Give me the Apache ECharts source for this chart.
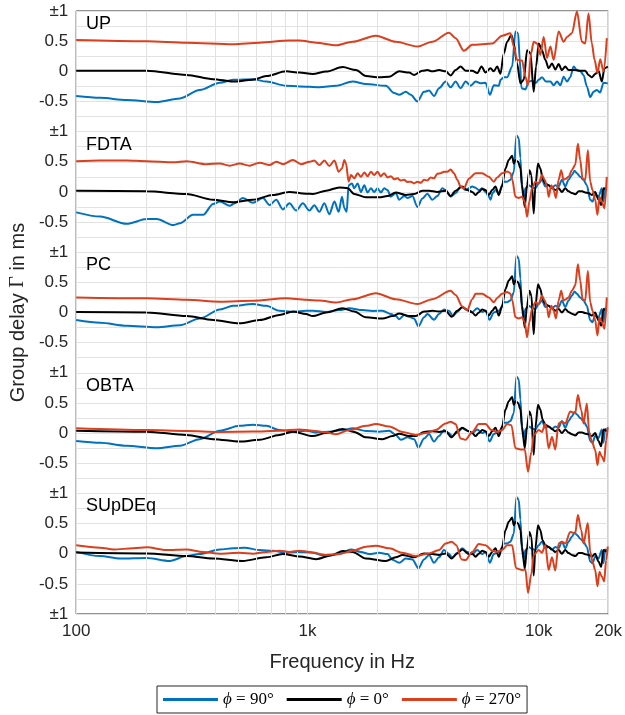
<!DOCTYPE html>
<html><head><meta charset="utf-8">
<script src="https://cdn.jsdelivr.net/npm/echarts@6/dist/echarts.min.js"></script>
<style>html,body{margin:0;padding:0;background:#fff}#c{width:625px;height:715px}</style>
</head><body><div id="c"></div>
<script>
// ---- data (frequency in Hz, group delay in ms) ----
const PANELS = ['UP', 'FDTA', 'PC', 'OBTA', 'SUpDEq'];
const DIRECTIONS = ['ϕ = 90°', 'ϕ = 0°', 'ϕ = 270°'];
const X_MINOR = [200,300,400,500,600,700,800,900,2000,3000,4000,5000,6000,7000,8000,9000];

const UP_90 = [[100,-0.41],[127,-0.44],[165,-0.475],[223,-0.51],[281,-0.45],[342,-0.31],[418,-0.19],[477,-0.14],[581,-0.13],[664,-0.17],[809,-0.24],[924,-0.25],[1126,-0.265],[1329,-0.24],[1568,-0.17],[1790,-0.21],[2183,-0.24],[2371,-0.36],[2492,-0.39],[2663,-0.34],[2798,-0.39],[2989,-0.5],[3193,-0.34],[3356,-0.32],[3527,-0.41],[3707,-0.28],[3960,-0.17],[4161,-0.265],[4373,-0.17],[4595,-0.28],[4830,-0.17],[5078,-0.24],[5336,-0.17],[5607,-0.2],[5891,-0.19],[6152,-0.39],[6401,-0.23],[6724,-0.24],[6838,-0.14],[7068,-0.1],[7303,-0.1],[7677,0.08],[7935,0.66],[8148,0.63],[8284,0.19],[8422,-0.28],[8761,-0.3],[9056,-0.17],[9360,-0.155],[9743,-0.19],[10000,-0.14],[10336,-0.1],[10762,-0.17],[11234,-0.17],[11612,-0.23],[12003,-0.17],[12407,-0.23],[12824,-0.09],[13256,-0.17],[13690,-0.1],[14160,0.08],[14636,0.02],[15129,0],[15633,-0.06],[16153,-0.25],[16705,-0.43],[17267,-0.34],[17848,-0.31],[18449,-0.35],[19069,-0.19],[19900,-0.2]];
const UP_0 = [[100,0.01],[202,0.01],[300,-0.06],[391,-0.13],[477,-0.17],[581,-0.14],[664,-0.08],[809,0],[924,-0.02],[1054,-0.045],[1204,-0.005],[1420,0.07],[1621,0.02],[1790,-0.08],[2043,-0.1],[2257,-0.09],[2492,0],[2752,-0.02],[2892,-0.06],[3141,0.01],[3300,0.02],[3469,0],[3707,0.02],[3960,0],[4161,-0.07],[4373,0.02],[4595,0.08],[4830,0.01],[5160,0.01],[5422,-0.03],[5660,0.08],[5891,-0.02],[6190,0.05],[6398,0],[6614,0.08],[6838,-0.04],[7068,0.3],[7303,0.49],[7624,0.6],[7805,0.46],[8067,0.13],[8337,-0.2],[8620,-0.14],[8910,0.35],[9210,0.3],[9516,-0.34],[9743,0.08],[10000,0.46],[10336,0.35],[10683,0.19],[11042,0.05],[11414,0.13],[11797,0.03],[12196,0.12],[12601,0.02],[13030,0.08],[13470,0.02],[14390,0.02],[15129,0.01],[15892,0.01],[16425,-0.06],[16980,-0.1],[17550,-0.045],[18141,0.01],[18752,-0.17],[19250,0.05],[19900,0.08]];
const UP_270 = [[100,0.52],[202,0.5],[300,0.475],[477,0.45],[621,0.475],[836,0.51],[924,0.51],[1089,0.475],[1329,0.43],[1568,0.49],[1977,0.59],[2411,0.49],[2989,0.41],[3469,0.49],[4093,0.64],[4373,0.55],[4750,0.34],[5160,0.44],[6294,0.46],[6950,0.59],[7552,0.63],[7805,0.41],[8067,0.19],[8476,0.18],[8761,-0.09],[8995,-0.23],[9271,0.3],[9516,0.49],[9840,0.46],[10170,0.27],[10512,0.57],[10862,0.22],[11234,0.41],[11612,0.19],[12196,0.66],[12824,0.49],[13256,0.57],[13922,0.63],[14636,0.99],[15382,0.49],[15892,0.46],[16425,0.96],[16980,0.46],[17440,0.19],[17962,-0.03],[18449,0.2],[19069,0.0],[19710,0.55]];

const FDTA_90 = [[100,-0.34],[127,-0.41],[165,-0.53],[202,-0.45],[223,-0.45],[263,-0.55],[281,-0.52],[320,-0.38],[354,-0.38],[391,-0.2],[418,-0.16],[461,-0.23],[485,-0.19],[526,-0.1],[581,-0.18],[642,-0.1],[686,-0.22],[733,-0.13],[783,-0.29],[836,-0.19],[894,-0.31],[955,-0.19],[1020,-0.31],[1071,-0.22],[1126,-0.33],[1183,-0.19],[1244,-0.37],[1308,-0.16],[1365,-0.33],[1411,-0.08],[1444,-0.27],[1478,-0.33],[1507,0.11],[1558,0.14],[1594,0.06],[1648,0.14],[1703,0.0],[1761,0.11],[1820,-0.01],[1881,0.06],[1944,0.0],[2010,0.06],[2077,-0.01],[2147,0.06],[2219,0.03],[2294,-0.08],[2411,-0.02],[2492,-0.13],[2619,-0.07],[2707,-0.1],[2844,-0.07],[2989,-0.25],[3141,-0.11],[3300,-0.03],[3469,-0.13],[3645,-0.07],[3831,0.06],[3960,0.03],[4161,-0.08],[4373,-0.02],[4595,0.09],[4830,0.03],[4992,0.06],[5159,0.09],[5333,0.07],[5513,0.03],[5698,0.06],[5891,0.0],[6088,-0.08],[6190,-0.13],[6319,-0.02],[6504,0.03],[6723,-0.02],[6949,0.09],[7065,0.17],[7303,0.17],[7549,0.2],[7803,0.33],[8012,0.94],[8200,0.89],[8337,0.56],[8476,0.03],[8617,-0.08],[8761,0.06],[9056,0.11],[9360,0.08],[9674,0.06],[10000,0.14],[10337,0.2],[10683,0.09],[11044,0.11],[11415,0.07],[11800,0.11],[12197,0.09],[12600,0.2],[13030,0.09],[13467,0.2],[13920,0.28],[14294,0.35],[14631,0.31],[15121,0.25],[15631,0.2],[16158,0.11],[16700,-0.13],[17093,-0.16],[17550,-0.05],[18140,-0.08],[18750,0.06],[19063,-0.16],[19380,0.07],[19700,0.06]];
const FDTA_0 = [[100,0.02],[202,0.01],[300,-0.035],[391,-0.13],[477,-0.17],[581,-0.13],[709,-0.05],[836,0.0],[987,-0.03],[1054,-0.035],[1204,0.02],[1374,0.075],[1492,0.06],[1594,-0.035],[1790,-0.09],[2043,-0.09],[2219,-0.07],[2411,-0.01],[2663,-0.05],[2892,-0.035],[3141,0.02],[3356,0.02],[3645,0.0],[3960,0.02],[4161,-0.07],[4373,0.02],[4672,0.09],[4910,0.03],[5159,0.0],[5333,-0.05],[5513,0.0],[5698,0.05],[5891,0.03],[6088,-0.05],[6292,0.03],[6504,0.09],[6723,-0.05],[6949,0.11],[7183,0.39],[7425,0.53],[7675,0.6],[7803,0.47],[7933,0.53],[8146,0.5],[8337,0.39],[8476,0.11],[8703,-0.25],[8907,0.11],[9116,0.36],[9298,0.28],[9516,-0.36],[9674,0.09],[9934,0.47],[10167,0.39],[10404,0.22],[10683,0.14],[11044,0.11],[11415,0.07],[11800,0.03],[12197,0.06],[12600,0.0],[13030,0.06],[13467,0.01],[13920,-0.02],[14390,-0.04],[14900,0.01],[15400,0.01],[15892,-0.01],[16425,-0.02],[16980,-0.05],[17550,0.0],[18140,-0.13],[18626,-0.22],[19063,0.06],[19700,0.03]];
const FDTA_270 = [[100,0.51],[127,0.52],[165,0.52],[202,0.51],[263,0.49],[300,0.51],[366,0.46],[418,0.47],[461,0.435],[509,0.47],[562,0.435],[621,0.485],[686,0.445],[733,0.5],[783,0.46],[865,0.53],[939,0.46],[1020,0.5],[1071,0.52],[1126,0.445],[1183,0.52],[1244,0.43],[1308,0.52],[1365,0.335],[1411,0.39],[1444,0.53],[1468,0.47],[1507,0.17],[1543,0.28],[1594,0.225],[1648,0.31],[1703,0.25],[1761,0.32],[1820,0.26],[1881,0.335],[1944,0.28],[2010,0.335],[2077,0.26],[2147,0.31],[2219,0.24],[2294,0.26],[2371,0.21],[2451,0.225],[2533,0.19],[2619,0.2],[2707,0.165],[2798,0.17],[2892,0.14],[2989,0.17],[3089,0.15],[3193,0.2],[3300,0.19],[3411,0.24],[3527,0.225],[3645,0.3],[3768,0.31],[3895,0.335],[4026,0.335],[4161,0.37],[4302,0.31],[4446,0.2],[4595,0.09],[4750,0.06],[4992,0.22],[5333,0.31],[5698,0.31],[6088,0.25],[6397,0.17],[6613,0.24],[6949,0.31],[7303,0.34],[7549,0.31],[7690,0.2],[7933,-0.08],[8200,-0.1],[8476,-0.08],[8703,-0.16],[8907,-0.41],[9116,-0.16],[9360,0.06],[9674,0.17],[10000,0.14],[10337,0.28],[10614,0.2],[10862,0.09],[11044,-0.08],[11340,0.11],[11606,0.03],[11878,-0.1],[12197,0.2],[12516,0.36],[12810,0.2],[13117,0.22],[13467,0.25],[13920,0.36],[14390,0.45],[14777,0.8],[15121,0.53],[15476,0.22],[15892,0.2],[16319,0.69],[16700,0.17],[17093,0.03],[17550,-0.13],[17960,-0.38],[18320,-0.08],[18750,-0.16],[19253,-0.27],[19700,0.25]];

const PC_90 = [[100,-0.125],[127,-0.17],[165,-0.22],[223,-0.245],[281,-0.21],[342,-0.1],[418,0.05],[477,0.11],[581,0.14],[664,0.11],[757,0.03],[865,0.01],[987,0.03],[1054,0.03],[1204,0.01],[1374,0.04],[1518,0.07],[1732,0.04],[1912,0.025],[2112,0.03],[2294,-0.025],[2411,-0.06],[2492,-0.11],[2619,-0.04],[2752,-0.07],[2892,-0.1],[3019,-0.23],[3193,-0.08],[3300,-0.025],[3527,-0.12],[3707,-0.025],[3895,0.05],[4093,0.03],[4259,-0.06],[4446,0.01],[4672,0.09],[4910,0.04],[5160,0.01],[5422,0.07],[5698,0.01],[5891,0.03],[6129,-0.12],[6398,0.0],[6724,0.03],[6949,0.09],[7065,0.17],[7303,0.17],[7549,0.2],[7803,0.33],[8012,0.94],[8200,0.89],[8337,0.56],[8476,0.03],[8617,-0.08],[8761,0.06],[9056,0.11],[9360,0.08],[9674,0.06],[10000,0.14],[10337,0.2],[10683,0.09],[11044,0.11],[11415,0.07],[11800,0.11],[12197,0.09],[12600,0.2],[13030,0.09],[13467,0.2],[13920,0.28],[14294,0.35],[14631,0.31],[15121,0.25],[15631,0.2],[16158,0.11],[16700,-0.13],[17093,-0.16],[17550,-0.05],[18140,-0.08],[18750,0.06],[19063,-0.16],[19380,0.07],[19700,0.06]];
const PC_0 = [[100,0.01],[202,0.0],[300,-0.06],[391,-0.125],[509,-0.18],[621,-0.125],[757,-0.04],[865,0.015],[987,-0.025],[1054,-0.06],[1204,0.0],[1420,0.07],[1594,0.015],[1790,-0.08],[2112,-0.1],[2332,-0.06],[2492,-0.015],[2752,-0.06],[2940,-0.06],[3193,0.015],[3469,0.03],[3707,0.015],[3960,0.03],[4203,-0.07],[4446,0.03],[4672,0.085],[4992,0.03],[5159,0.0],[5333,-0.05],[5513,0.0],[5698,0.05],[5891,0.03],[6088,-0.05],[6292,0.03],[6504,0.09],[6723,-0.05],[6949,0.11],[7183,0.39],[7425,0.53],[7675,0.6],[7803,0.47],[7933,0.53],[8146,0.5],[8337,0.39],[8476,0.11],[8703,-0.25],[8907,0.11],[9116,0.36],[9298,0.28],[9516,-0.36],[9674,0.09],[9934,0.47],[10167,0.39],[10404,0.22],[10683,0.14],[11044,0.11],[11415,0.07],[11800,0.03],[12197,0.06],[12600,0.0],[13030,0.06],[13467,0.01],[13920,-0.02],[14390,-0.04],[14900,0.01],[15400,0.01],[15892,-0.01],[16425,-0.02],[16980,-0.05],[17550,0.0],[18140,-0.13],[18626,-0.22],[19063,0.06],[19700,0.03]];
const PC_270 = [[100,0.25],[202,0.235],[300,0.21],[418,0.18],[581,0.195],[809,0.235],[987,0.21],[1126,0.2],[1329,0.165],[1568,0.22],[1977,0.32],[2411,0.22],[2989,0.14],[3469,0.22],[4161,0.36],[4373,0.29],[4672,0.1],[4910,0.04],[5160,0.22],[5333,0.31],[5698,0.31],[6088,0.25],[6397,0.17],[6613,0.24],[6949,0.31],[7303,0.34],[7549,0.31],[7690,0.2],[7933,-0.08],[8200,-0.1],[8476,-0.08],[8703,-0.16],[8907,-0.41],[9116,-0.16],[9360,0.06],[9674,0.17],[10000,0.14],[10337,0.28],[10614,0.2],[10862,0.09],[11044,-0.08],[11340,0.11],[11606,0.03],[11878,-0.1],[12197,0.2],[12516,0.36],[12810,0.2],[13117,0.22],[13467,0.25],[13920,0.36],[14390,0.45],[14777,0.8],[15121,0.53],[15476,0.22],[15892,0.2],[16319,0.69],[16700,0.17],[17093,0.03],[17550,-0.13],[17960,-0.38],[18320,-0.08],[18750,-0.16],[19253,-0.27],[19700,0.25]];

const OBTA_90 = [[100,-0.13],[127,-0.16],[165,-0.21],[223,-0.25],[281,-0.21],[342,-0.1],[418,0.04],[509,0.12],[581,0.14],[664,0.12],[757,0.05],[865,0.024],[987,0.04],[1089,0.01],[1244,0.024],[1420,0.05],[1568,0.08],[1790,0.035],[2043,0.024],[2257,0.04],[2411,-0.03],[2533,-0.11],[2707,-0.07],[2892,-0.1],[3019,-0.24],[3193,-0.09],[3356,-0.015],[3527,-0.14],[3707,-0.05],[3895,0.05],[4066,0.007],[4231,-0.05],[4446,0.007],[4672,0.08],[4910,0.04],[5160,-0.004],[5422,0.06],[5698,0.0],[5891,0.024],[6129,-0.14],[6398,-0.015],[6724,0.024],[6949,0.09],[7065,0.17],[7303,0.17],[7549,0.2],[7803,0.33],[8012,0.94],[8200,0.89],[8337,0.56],[8476,0.03],[8617,-0.08],[8761,0.06],[9056,0.11],[9360,0.08],[9674,0.06],[10000,0.14],[10337,0.2],[10683,0.09],[11044,0.11],[11415,0.07],[11800,0.11],[12197,0.09],[12600,0.2],[13030,0.09],[13467,0.2],[13920,0.28],[14294,0.35],[14631,0.31],[15121,0.25],[15631,0.2],[16158,0.11],[16700,-0.13],[17093,-0.16],[17550,-0.05],[18140,-0.08],[18750,0.06],[19063,-0.16],[19380,0.07],[19700,0.06]];
const OBTA_0 = [[100,0.04],[202,0.024],[300,-0.03],[391,-0.1],[509,-0.14],[621,-0.11],[757,-0.03],[865,0.024],[1054,-0.05],[1204,0.0],[1420,0.07],[1594,0.02],[1790,-0.07],[2112,-0.1],[2332,-0.05],[2492,-0.01],[2752,-0.05],[2940,-0.05],[3193,0.02],[3469,0.03],[3707,0.02],[3960,0.03],[4203,-0.07],[4446,0.03],[4672,0.09],[4992,0.03],[5159,0.0],[5333,-0.05],[5513,0.0],[5698,0.05],[5891,0.03],[6088,-0.05],[6292,0.03],[6504,0.09],[6723,-0.05],[6949,0.11],[7183,0.39],[7425,0.53],[7675,0.6],[7803,0.47],[7933,0.53],[8146,0.5],[8337,0.39],[8476,0.11],[8703,-0.25],[8907,0.11],[9116,0.36],[9298,0.28],[9516,-0.36],[9674,0.09],[9934,0.47],[10167,0.39],[10404,0.22],[10683,0.14],[11044,0.11],[11415,0.07],[11800,0.03],[12197,0.06],[12600,0.0],[13030,0.06],[13467,0.01],[13920,-0.02],[14390,-0.04],[14900,0.01],[15400,0.01],[15892,-0.01],[16425,-0.02],[16980,-0.05],[17550,0.0],[18140,-0.13],[18626,-0.22],[19063,0.06],[19700,0.03]];
const OBTA_270 = [[100,0.08],[202,0.05],[300,0.035],[418,0.02],[581,0.025],[757,0.04],[924,0.06],[1054,0.04],[1204,0.01],[1329,-0.02],[1518,0.05],[1790,0.12],[1977,0.15],[2257,0.11],[2576,0.02],[2940,-0.03],[3247,0.0],[3586,0.05],[3960,0.16],[4161,0.19],[4373,0.15],[4595,-0.09],[4830,-0.11],[5160,0.02],[5513,0.15],[5891,0.15],[6252,0.05],[6614,0.02],[6950,0.05],[7303,0.15],[7624,0.13],[7933,-0.25],[8337,-0.27],[8703,-0.27],[8995,-0.64],[9298,-0.31],[9516,-0.03],[10000,0.05],[10336,0.02],[10683,0.16],[11042,-0.25],[11414,-0.06],[11797,-0.27],[12196,0.16],[12601,0.19],[13030,0.16],[13690,0.36],[14390,0.33],[14776,0.63],[15276,0.38],[15633,0.16],[16153,0.49],[16531,0.02],[16980,-0.14],[17550,-0.28],[17962,-0.53],[18323,-0.31],[18752,-0.39],[19191,-0.47],[19575,-0.12],[19900,0.1]];

const SUPDEQ_90 = [[100,0.03],[127,-0.04],[155,-0.08],[202,-0.07],[254,-0.12],[300,-0.04],[342,-0.005],[418,0.07],[477,0.09],[535,0.1],[621,0.06],[709,0.05],[809,0.015],[924,0.03],[1054,0.015],[1204,-0.04],[1374,-0.005],[1543,0.07],[1703,0.03],[1850,-0.005],[2043,0.015],[2219,-0.005],[2332,-0.1],[2492,-0.15],[2663,-0.08],[2844,-0.095],[3019,-0.24],[3193,-0.095],[3356,-0.02],[3527,-0.15],[3707,-0.06],[3895,0.06],[4066,0.005],[4231,-0.06],[4446,0.015],[4672,0.09],[4910,0.03],[5160,-0.005],[5422,0.06],[5698,-0.005],[5891,0.03],[6149,-0.15],[6398,-0.005],[6724,0.03],[6949,0.09],[7065,0.17],[7303,0.17],[7549,0.2],[7803,0.33],[8012,0.94],[8200,0.89],[8337,0.56],[8476,0.03],[8617,-0.08],[8761,0.06],[9056,0.11],[9360,0.08],[9674,0.06],[10000,0.14],[10337,0.2],[10683,0.09],[11044,0.11],[11415,0.07],[11800,0.11],[12197,0.09],[12600,0.2],[13030,0.09],[13467,0.2],[13920,0.28],[14294,0.35],[14631,0.31],[15121,0.25],[15631,0.2],[16158,0.11],[16700,-0.13],[17093,-0.16],[17550,-0.05],[18140,-0.08],[18750,0.06],[19063,-0.16],[19380,0.07],[19700,0.06]];
const SUPDEQ_0 = [[100,0.02],[202,0.005],[300,-0.04],[391,-0.08],[526,-0.12],[664,-0.06],[783,-0.005],[924,-0.045],[1089,-0.09],[1286,-0.02],[1420,0.045],[1568,0.03],[1790,-0.08],[2183,-0.12],[2411,-0.06],[2576,-0.02],[2892,-0.06],[3193,0.005],[3469,-0.005],[3707,-0.02],[3960,0.005],[4203,-0.08],[4446,0.005],[4672,0.07],[4992,-0.005],[5159,0.0],[5333,-0.05],[5513,0.0],[5698,0.05],[5891,0.03],[6088,-0.05],[6292,0.03],[6504,0.09],[6723,-0.05],[6949,0.11],[7183,0.39],[7425,0.53],[7675,0.6],[7803,0.47],[7933,0.53],[8146,0.5],[8337,0.39],[8476,0.11],[8703,-0.25],[8907,0.11],[9116,0.36],[9298,0.28],[9516,-0.36],[9674,0.09],[9934,0.47],[10167,0.39],[10404,0.22],[10683,0.14],[11044,0.11],[11415,0.07],[11800,0.03],[12197,0.06],[12600,0.0],[13030,0.06],[13467,0.01],[13920,-0.02],[14390,-0.04],[14900,0.01],[15400,0.01],[15892,-0.01],[16425,-0.02],[16980,-0.05],[17550,0.0],[18140,-0.13],[18626,-0.22],[19063,0.06],[19700,0.03]];
const SUPDEQ_270 = [[100,0.14],[127,0.1],[145,0.07],[177,0.09],[202,0.105],[246,0.06],[300,0.07],[354,0.03],[418,0.0],[509,0.015],[581,0.0],[664,0.03],[757,0.05],[836,0.03],[924,0.05],[1020,0.03],[1204,-0.02],[1374,-0.005],[1568,0.05],[1790,0.115],[1977,0.13],[2257,0.09],[2576,0.015],[2940,-0.04],[3356,0.005],[3707,0.06],[3960,0.17],[4203,0.2],[4402,0.14],[4641,-0.095],[4830,-0.105],[5160,0.03],[5513,0.16],[5891,0.14],[6294,0.05],[6614,0.03],[6950,0.06],[7303,0.14],[7675,0.14],[7985,-0.24],[8476,-0.27],[8761,-0.26],[8995,-0.65],[9298,-0.33],[9516,-0.02],[10000,0.06],[10336,0.015],[10683,0.14],[11042,-0.27],[11414,-0.06],[11797,-0.28],[12196,0.17],[12601,0.2],[13030,0.17],[13690,0.36],[14390,0.34],[14776,0.64],[15276,0.39],[15633,0.17],[16310,0.51],[16705,0.03],[17090,-0.13],[17550,-0.27],[17962,-0.54],[18323,-0.3],[18752,-0.38],[19191,-0.46],[19575,-0.11],[19900,0.12]];

// curves per panel, in the order of DIRECTIONS
const CURVES = [
  [UP_90, UP_0, UP_270],
  [FDTA_90, FDTA_0, FDTA_270],
  [PC_90, PC_0, PC_270],
  [OBTA_90, OBTA_0, OBTA_270],
  [SUPDEQ_90, SUPDEQ_0, SUPDEQ_270]
];

// ---- styling / layout ----
const COLORS = ['#0072BD', '#000000', '#DA3F1E'];
const SANS = '"Liberation Sans", Arial, Helvetica, sans-serif';
const SERIF = '"Liberation Serif", "DejaVu Serif", serif';
const TXT = '#262626';
const GRIDC = '#e2e2e2';
const G = { left: 76, top: 11, right: 16, height: 603 };
// panel k has its zero at stacked value OFFSETS[k]; each panel spans -1..1
const OFFSETS = [4, 2, 0, -2, -4];

function yLabel(v) {
  const r = Math.round(v * 4) / 4;
  if (Math.abs(r - Math.round(r)) < 1e-6 && Math.abs(Math.round(r)) % 2 === 1) return '±1';
  const rel = r - 2 * Math.round(r / 2);
  if (Math.abs(rel) < 1e-6) return '0';
  if (Math.abs(rel - 0.5) < 1e-6) return '0.5';
  if (Math.abs(rel + 0.5) < 1e-6) return '-0.5';
  return '';
}
function xLabel(v) {
  const r = Math.round(v);
  return r >= 1000 ? Math.round(r / 1000) + 'k' : String(r);
}

const series = [{
  type: 'line', data: [], silent: true, z: 1,
  markLine: {
    silent: true, symbol: ['none', 'none'], animation: false,
    label: { show: false },
    lineStyle: { color: GRIDC, type: 'solid', width: 1 },
    data: X_MINOR.map(f => ({ xAxis: f }))
  }
}];
CURVES.forEach((panel, k) => {
  panel.forEach((curve, d) => {
    series.push({
      name: DIRECTIONS[d], type: 'line', showSymbol: false, symbol: 'none',
      smooth: 0.3, smoothMonotone: 'x',
      z: 3 + d, animation: false,
      lineStyle: { color: COLORS[d], width: 2 },
      itemStyle: { color: COLORS[d] },
      data: curve.map(p => [p[0], p[1] + OFFSETS[k]])
    });
  });
});

const titles = PANELS.map((t, k) => ({
  text: t, left: 86, top: 15 + k * 120.6, padding: 0,
  textStyle: { fontSize: 18, fontWeight: 'normal', fontFamily: SANS, color: '#000' }
}));

const chart = echarts.init(document.getElementById('c'), null, { renderer: 'canvas' });
chart.setOption({
  animation: false,
  backgroundColor: '#fff',
  title: titles,
  grid: { left: G.left, top: G.top, right: G.right, height: G.height, show: true, borderColor: TXT, borderWidth: 1, containLabel: false },
  xAxis: {
    type: 'log', logBase: 10, min: 100, max: 20000,
    name: 'Frequency in Hz', nameLocation: 'middle', nameGap: 38,
    nameTextStyle: { fontSize: 20, color: TXT, fontFamily: SANS },
    axisLine: { show: false }, axisTick: { show: false },
    axisLabel: { formatter: xLabel, fontSize: 17, color: TXT, fontFamily: SANS, margin: 9, showMaxLabel: true, showMinLabel: true },
    splitLine: { show: true, lineStyle: { color: GRIDC, width: 1 } }
  },
  yAxis: {
    type: 'value', min: -5, max: 5, interval: 0.25,
    name: 'Group delay {g|Γ} in ms', nameLocation: 'middle', nameGap: 48,
    nameTextStyle: { fontSize: 20, color: TXT, fontFamily: SANS,
      rich: { g: { fontSize: 20, color: TXT, fontFamily: SERIF } } },
    axisLine: { show: false }, axisTick: { show: false },
    axisLabel: { formatter: yLabel, fontSize: 17, color: TXT, fontFamily: SANS, margin: 8 },
    splitLine: { show: true, lineStyle: { color: GRIDC, width: 1 } }
  },
  legend: {
    data: DIRECTIONS, left: 157, top: 686, orient: 'horizontal',
    padding: [5, 6], itemGap: 13, itemWidth: 55, itemHeight: 3, icon: 'rect',
    borderColor: TXT, borderWidth: 1, backgroundColor: '#fff',
    formatter: n => '{i|ϕ}' + n.slice(1),
    textStyle: { fontSize: 17, color: '#000', fontFamily: SERIF,
      rich: { i: { fontSize: 17, fontStyle: 'italic', fontFamily: SERIF, color: '#000' } } }
  },
  series: series
});
</script>
</body></html>
